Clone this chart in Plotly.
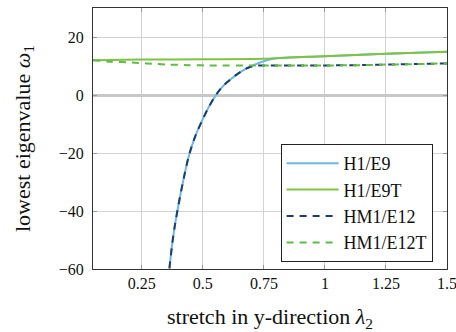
import plotly.graph_objects as go

# H1/E9 (light blue, solid)
h1e9_x = [0.363, 0.378, 0.3955, 0.427, 0.445, 0.468, 0.4996, 0.5254, 0.55, 0.5746, 0.598, 0.6455, 0.7004, 0.762, 0.80, 1.0, 1.25, 1.5]
h1e9_y = [-59.8, -49.1, -40.0, -26.6, -20.3, -14.45, -8.34, -4.0, -0.48, 2.31, 4.28, 7.48, 10.03, 11.97, 12.7, 13.4, 14.2, 14.9]

# H1/E9T (green, solid)
h1e9t_x = [0.05, 0.25, 0.5, 0.75, 0.8, 1.0, 1.25, 1.5]
h1e9t_y = [12.0, 12.2, 12.3, 12.5, 12.7, 13.4, 14.2, 14.9]

# HM1/E12 (navy, dashed)
hm1e12_x = [0.363, 0.378, 0.3955, 0.427, 0.445, 0.468, 0.4996, 0.5254, 0.55, 0.5746, 0.598, 0.6455, 0.685, 0.72, 0.76, 0.85, 1.0, 1.15, 1.25, 1.33, 1.5]
hm1e12_y = [-59.8, -49.1, -40.0, -26.6, -20.3, -14.45, -8.34, -4.0, -0.48, 2.31, 4.28, 7.48, 9.4, 10.1, 10.2, 10.2, 10.2, 10.3, 10.5, 10.6, 10.9]

# HM1/E12T (green, dashed)
hm1e12t_x = [0.05, 0.12, 0.21, 0.27, 0.36, 0.44, 0.52, 0.75, 1.0, 1.15, 1.25, 1.33, 1.5]
hm1e12t_y = [12.0, 11.5, 11.2, 10.9, 10.5, 10.3, 10.2, 10.2, 10.2, 10.3, 10.5, 10.6, 10.9]

x_ticks = [0.25, 0.5, 0.75, 1, 1.25, 1.5]
x_ticklabels = ["0.25", "0.5", "0.75", "1", "1.25", "1.5"]
y_ticks = [-60, -40, -20, 0, 20]
y_ticklabels = ["\u221260", "\u221240", "\u221220", "0", "20"]

FONT = "Liberation Serif"

fig = go.Figure()
fig.add_trace(go.Scatter(x=h1e9_x, y=h1e9_y, mode="lines", name="H1/E9",
                         line=dict(color="#6ab8e8", width=2, shape="spline", smoothing=1.0)))
fig.add_trace(go.Scatter(x=h1e9t_x, y=h1e9t_y, mode="lines", name="H1/E9T",
                         line=dict(color="#80c342", width=2, shape="spline", smoothing=0.8)))
fig.add_trace(go.Scatter(x=hm1e12_x, y=hm1e12_y, mode="lines", name="HM1/E12",
                         line=dict(color="#1d3d6b", width=2, dash="7px,6px", shape="spline", smoothing=1.0)))
fig.add_trace(go.Scatter(x=hm1e12t_x, y=hm1e12t_y, mode="lines", name="HM1/E12T",
                         line=dict(color="#5fbb45", width=2, dash="7px,6px", shape="spline", smoothing=0.8)))

axis_common = dict(
    showgrid=True, gridcolor="#d3d3d3", gridwidth=1,
    showline=True, linecolor="#333333", linewidth=1, mirror="allticks",
    ticks="inside", ticklen=4, tickcolor="#999999",
    tickfont=dict(family=FONT, size=16, color="#111111"),
    ticklabeloverflow="allow", automargin=False,
)

fig.update_layout(
    width=456, height=332,
    margin=dict(l=93, r=9, t=8, b=63, autoexpand=False),
    paper_bgcolor="white", plot_bgcolor="white",
    font=dict(family=FONT, color="#111111"),
    xaxis=dict(range=[0.05, 1.5], tickvals=x_ticks, ticktext=x_ticklabels,
               zeroline=False,
               title=dict(text="stretch in y-direction <i>\u03bb</i><sub>2</sub>",
                          font=dict(family=FONT, size=22), standoff=17),
               **axis_common),
    yaxis=dict(range=[-60, 30], tickvals=y_ticks, ticktext=y_ticklabels,
               zeroline=True, zerolinecolor="#c8c8c8", zerolinewidth=3,
               ticklabelstandoff=5,
               title=dict(text="lowest eigenvalue <i>\u03c9</i><sub>1</sub>",
                          font=dict(family=FONT, size=22), standoff=22),
               **axis_common),
    legend=dict(x=0.53, y=0.479, xanchor="left", yanchor="top",
                bgcolor="white", bordercolor="#222222", borderwidth=1,
                font=dict(family=FONT, size=18, color="#111111"),
                itemwidth=52, tracegroupgap=0),
    showlegend=True,
)

fig.write_html("out.html")
